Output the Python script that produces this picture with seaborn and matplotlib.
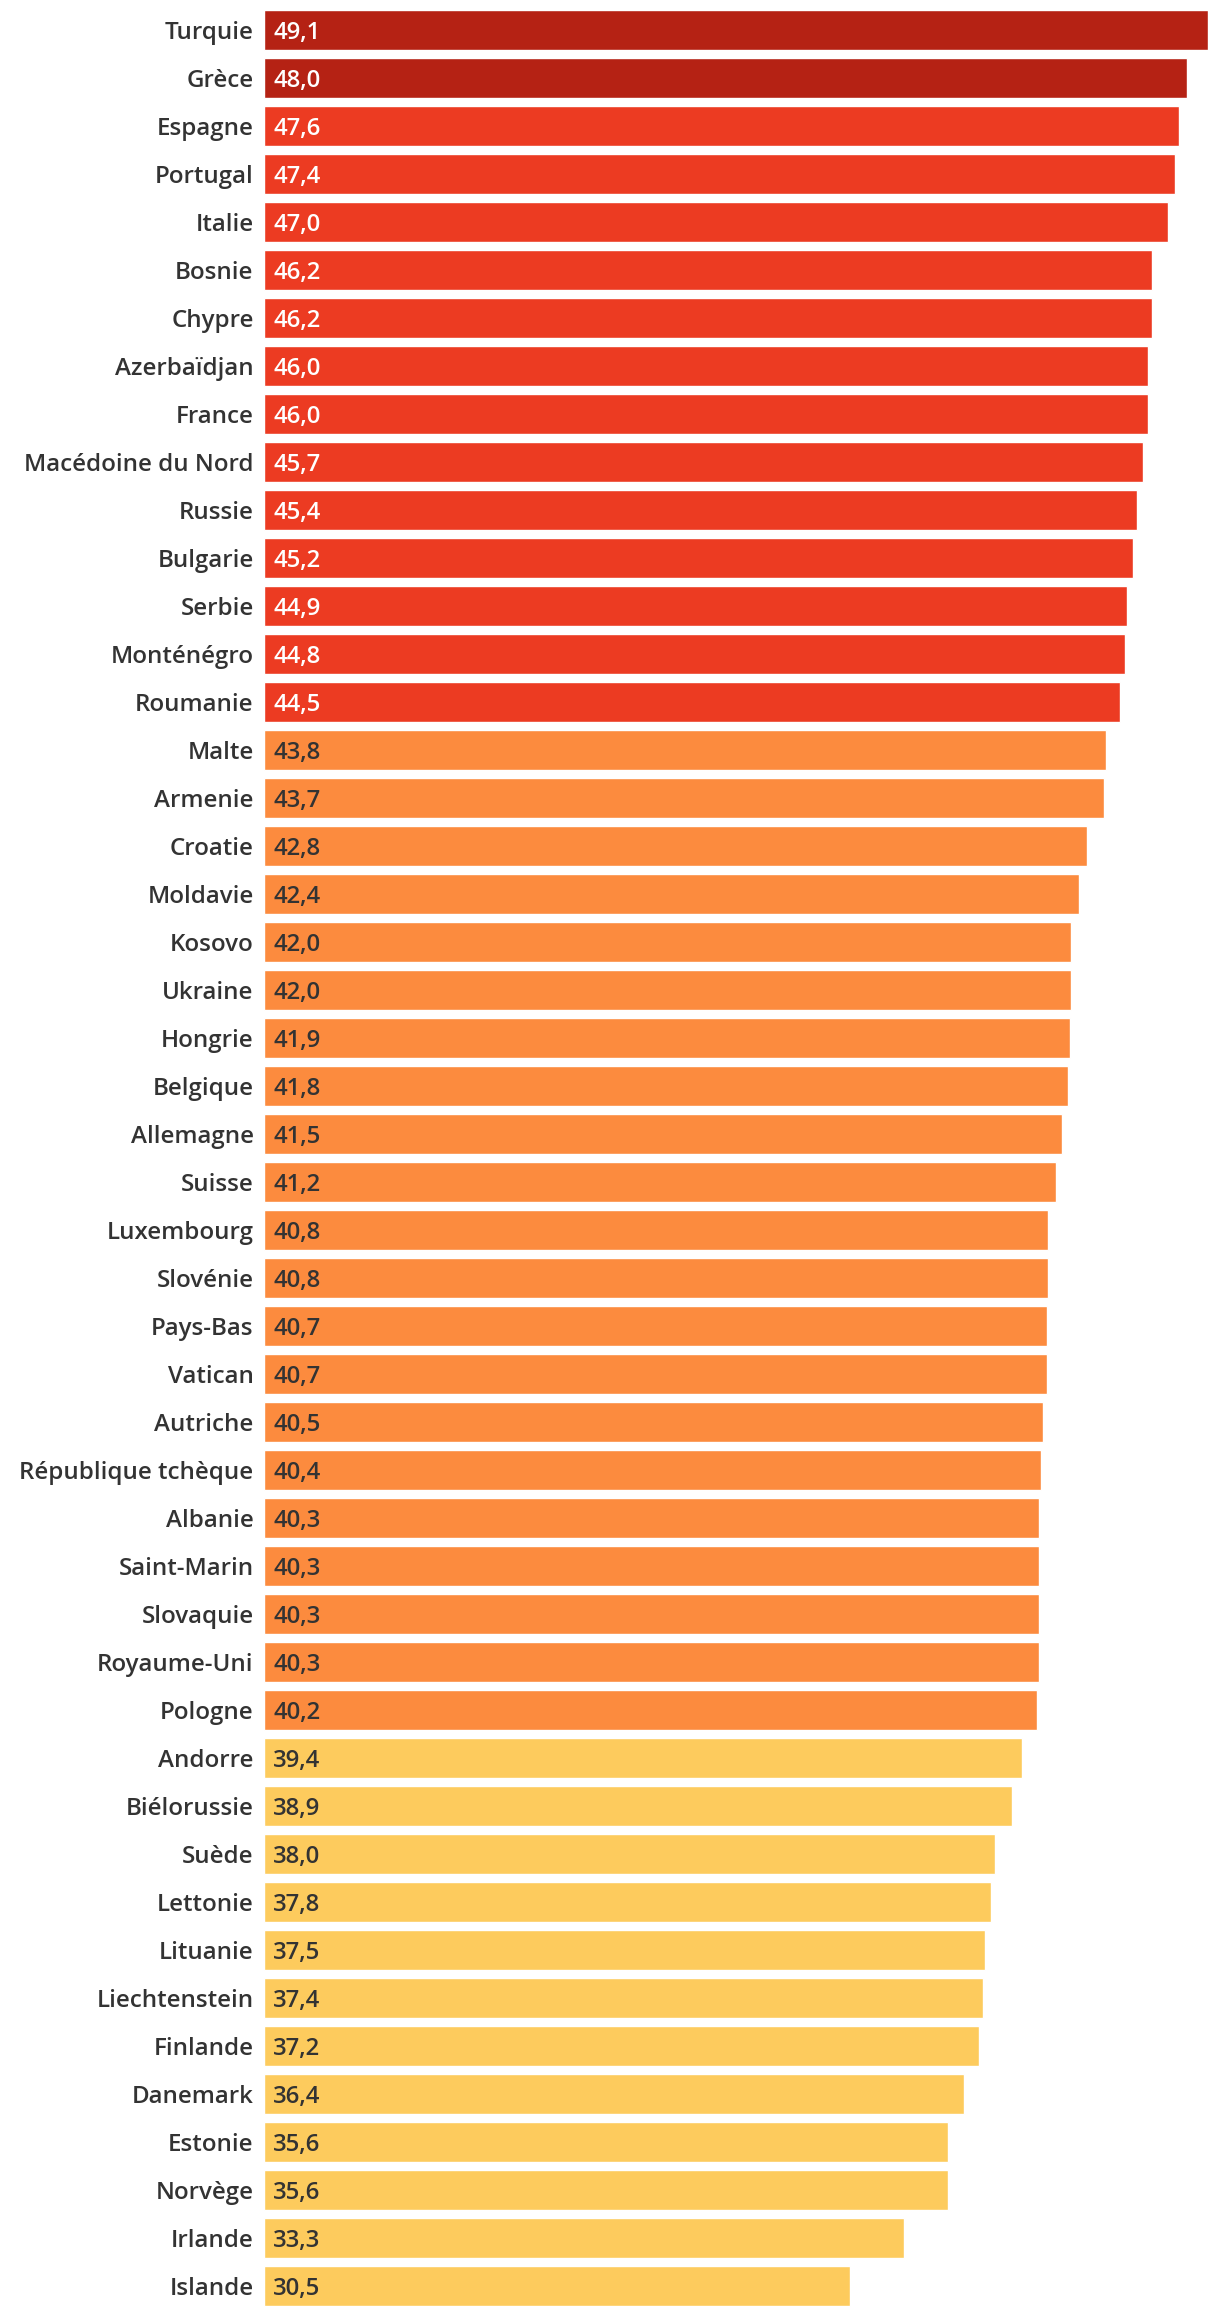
import matplotlib
matplotlib.use("Agg")
import matplotlib.pyplot as plt
import seaborn as sns
import pandas as pd

countries = ["Turquie", "Grèce", "Espagne", "Portugal", "Italie", "Bosnie", "Chypre",
             "Azerbaïdjan", "France", "Macédoine du Nord", "Russie", "Bulgarie", "Serbie",
             "Monténégro", "Roumanie", "Malte", "Armenie", "Croatie", "Moldavie", "Kosovo",
             "Ukraine", "Hongrie", "Belgique", "Allemagne", "Suisse", "Luxembourg",
             "Slovénie", "Pays-Bas", "Vatican", "Autriche", "République tchèque", "Albanie",
             "Saint-Marin", "Slovaquie", "Royaume-Uni", "Pologne", "Andorre", "Biélorussie",
             "Suède", "Lettonie", "Lituanie", "Liechtenstein", "Finlande", "Danemark",
             "Estonie", "Norvège", "Irlande", "Islande"]
values = [49.1, 48.0, 47.6, 47.4, 47.0, 46.2, 46.2, 46.0, 46.0, 45.7, 45.4, 45.2, 44.9,
          44.8, 44.5, 43.8, 43.7, 42.8, 42.4, 42.0, 42.0, 41.9, 41.8, 41.5, 41.2, 40.8,
          40.8, 40.7, 40.7, 40.5, 40.4, 40.3, 40.3, 40.3, 40.3, 40.2, 39.4, 38.9, 38.0,
          37.8, 37.5, 37.4, 37.2, 36.4, 35.6, 35.6, 33.3, 30.5]
groups = ["g4"] * 2 + ["g3"] * 13 + ["g2"] * 21 + ["g1"] * 12

palette = {"g4": "#B52214", "g3": "#EC3B22", "g2": "#FC8B3E", "g1": "#FDCB5D"}
text_colors = {"g4": "white", "g3": "white", "g2": "#333333", "g1": "#333333"}

df = pd.DataFrame({"pays": countries, "valeur": values, "groupe": groups})

sns.set_theme(style="white")
plt.rcParams["font.family"] = ["Open Sans", "DejaVu Sans"]

W, H = 1220, 2316
fig = plt.figure(figsize=(W / 100, H / 100), dpi=100)
x0, x1 = 264, 1208
ax = fig.add_axes([x0 / W, 0, (x1 - x0) / W, 1])

pitch = 48
bar_h = 40
sns.barplot(data=df, y="pays", x="valeur", hue="groupe", palette=palette,
            orient="h", dodge=False, width=bar_h / pitch, legend=False,
            saturation=1, ax=ax)

ax.set_xlim(0, max(values))
top_c = 30 / pitch
ax.set_ylim((H - 30) / pitch, -top_c)
for s in ax.spines.values():
    s.set_visible(False)
ax.set_xticks([])
ax.set_xlabel("")
ax.set_ylabel("")
ax.tick_params(axis="y", length=0, pad=7.5)
for lab in ax.get_yticklabels():
    lab.set_fontsize(17.4)
    lab.set_fontweight("semibold")
    lab.set_color("#333333")

for i, (v, g) in enumerate(zip(values, groups)):
    ax.annotate(f"{v:.1f}".replace(".", ","), xy=(0, i), xytext=(6.5, 0),
                textcoords="offset points", va="center_baseline", ha="left",
                fontsize=17.2, fontweight="semibold", color=text_colors[g])

fig.savefig("out.png", dpi=100)
